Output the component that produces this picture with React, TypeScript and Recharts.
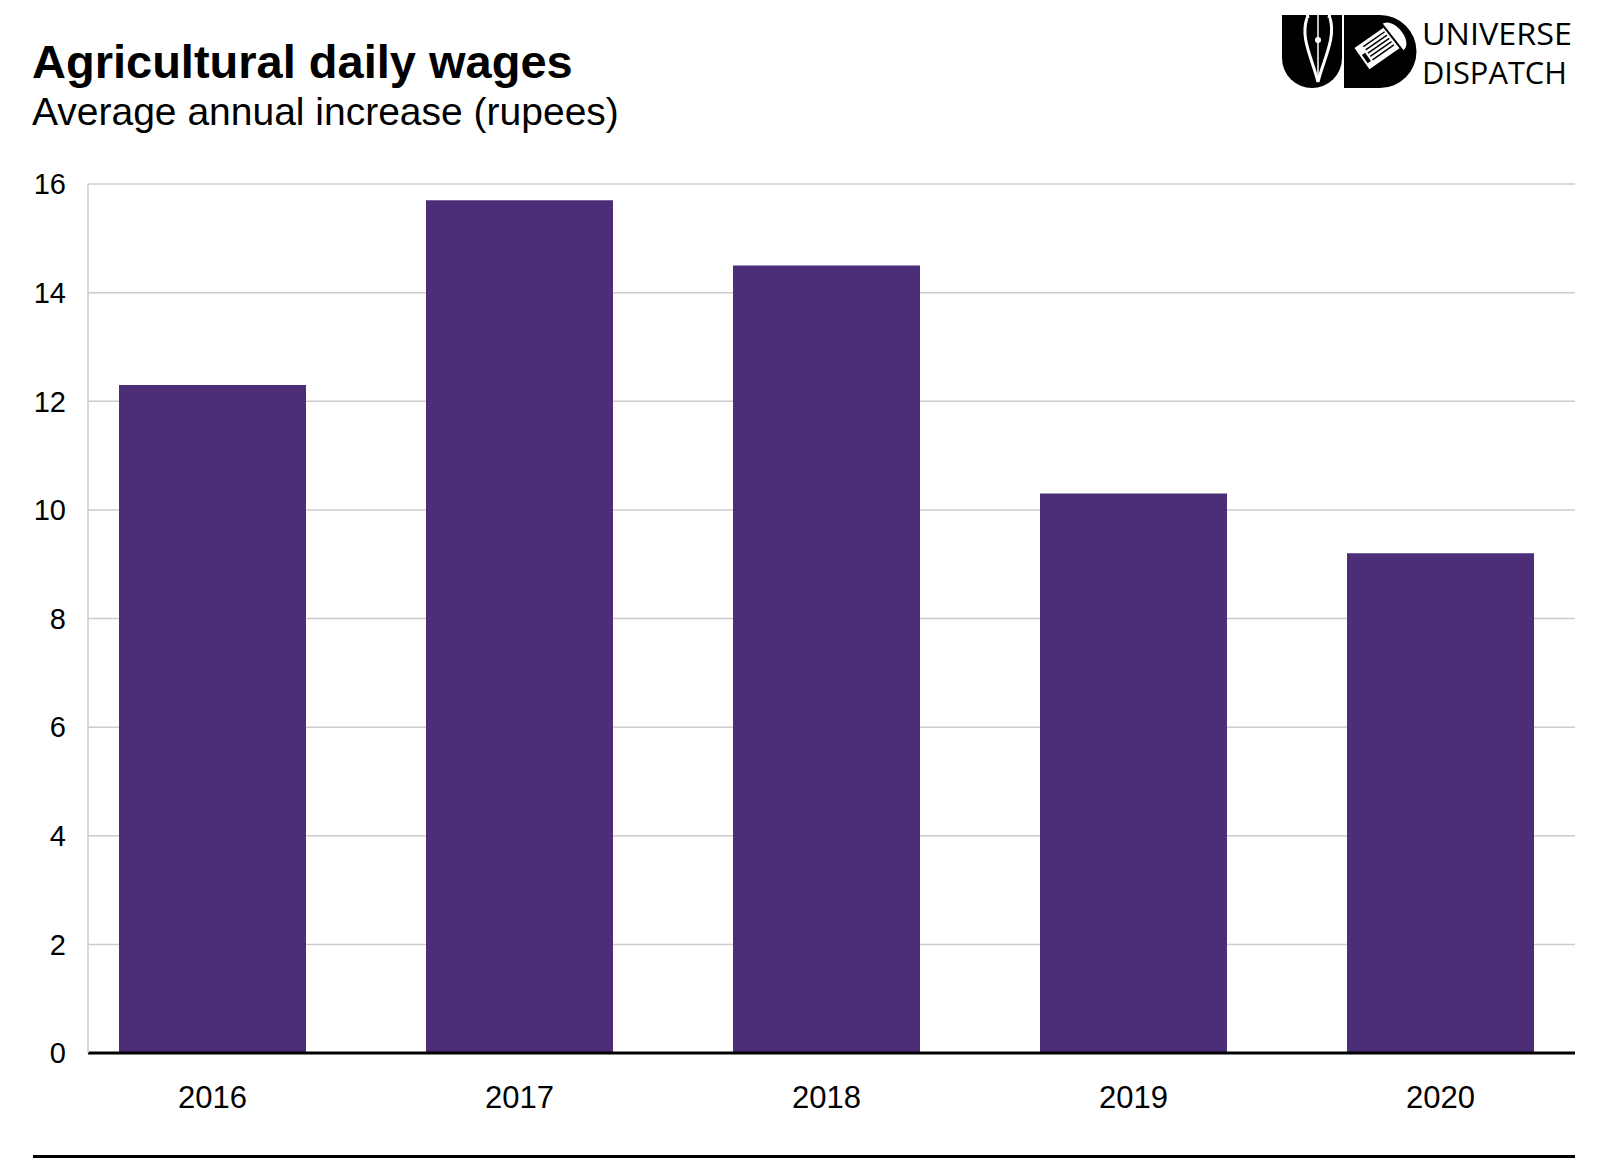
import React from 'react';
import { BarChart, Bar, XAxis, YAxis, CartesianGrid } from 'recharts';

const years = ['2016', '2017', '2018', '2019', '2020'];
const increases = [12.3, 15.7, 14.5, 10.3, 9.2];
const yTicks = [0, 2, 4, 6, 8, 10, 12, 14, 16];

const data = years.map((year, i) => ({ year, value: increases[i] }));

const FONT = '"Liberation Sans", Arial, Helvetica, sans-serif';
const BAR_COLOR = '#4c2d77';
const GRID_COLOR = '#cccccc';

const Logo: React.FC = () => (
  <svg
    width={340}
    height={100}
    viewBox="1260 0 340 100"
    style={{ position: 'absolute', left: 1260, top: 0 }}
  >
    {/* U with pen nib */}
    <path d="M1282,15 H1342 V58 A30,30 0 0 1 1312,88 A30,30 0 0 1 1282,58 Z" fill="#000" />
    <path d="M1306,15 H1331 V22 H1306 Z" fill="#fff" />
    <path
      d="M1307,18 C1300,38 1312,58 1318,82 C1324,58 1336,38 1330,18"
      fill="#000"
      stroke="#fff"
      strokeWidth={3}
    />
    <path d="M1309,15 H1328 L1327,21 H1310 Z" fill="#000" />
    <line x1={1318} y1={15} x2={1318} y2={80} stroke="#fff" strokeWidth={1.5} />
    <circle cx={1318} cy={40} r={3} fill="#fff" />
    {/* D with scroll */}
    <path d="M1344,15 H1380 A36.5,36.5 0 0 1 1380,88 H1344 Z" fill="#000" />
    <g transform="rotate(-35 1380 46)">
      <rect x={1358} y={33} width={38} height={26} fill="#fff" />
      <path d="M1394,28 C1410,28 1412,64 1396,64 Z" fill="#fff" stroke="#000" strokeWidth={2} />
      {[37, 41, 45, 49, 53].map((y) => (
        <line key={y} x1={1366} y1={y} x2={1392} y2={y} stroke="#000" strokeWidth={1.5} />
      ))}
      <rect x={1360} y={43} width={4} height={10} fill="#000" />
    </g>
    <text
      x={1422}
      y={45}
      fontFamily='"Open Sans", "DejaVu Sans", sans-serif'
      fontSize={31}
      textLength={150}
      lengthAdjust="spacingAndGlyphs"
      fill="#000"
    >
      UNIVERSE
    </text>
    <text
      x={1422}
      y={84}
      fontFamily='"Open Sans", "DejaVu Sans", sans-serif'
      fontSize={31}
      textLength={145}
      lengthAdjust="spacingAndGlyphs"
      fill="#000"
    >
      DISPATCH
    </text>
  </svg>
);

export default function App() {
  return (
    <div
      style={{
        position: 'absolute',
        left: 0,
        top: 0,
        width: 1600,
        height: 1159,
        background: '#fff',
        fontFamily: FONT,
        overflow: 'hidden',
      }}
    >
      <div
        style={{
          position: 'absolute',
          left: 32,
          top: 34,
          fontSize: 47,
          fontWeight: 700,
          lineHeight: '56px',
          color: '#000',
          whiteSpace: 'nowrap',
        }}
      >
        Agricultural daily wages
      </div>
      <div
        style={{
          position: 'absolute',
          left: 32,
          top: 89,
          fontSize: 39,
          lineHeight: '46px',
          color: '#000',
          whiteSpace: 'nowrap',
        }}
      >
        Average annual increase (rupees)
      </div>
      <Logo />

      <div style={{ position: 'absolute', left: 0, top: 0 }}>
        <BarChart
          width={1600}
          height={1159}
          data={data}
          margin={{ top: 184, right: 25, bottom: 76, left: 28 }}
        >
          <CartesianGrid vertical={false} stroke={GRID_COLOR} strokeWidth={1.5} />
          <XAxis
            dataKey="year"
            height={30}
            padding={{ left: -29, right: -19 }}
            axisLine={{ stroke: '#000', strokeWidth: 3 }}
            tickLine={false}
            tickSize={0}
            tickMargin={33}
            tick={{ fill: '#000', fontSize: 31, fontFamily: FONT }}
          />
          <YAxis
            width={60}
            domain={[0, 16]}
            ticks={yTicks}
            interval={0}
            axisLine={{ stroke: GRID_COLOR, strokeWidth: 1.5 }}
            tickLine={false}
            tickSize={0}
            tickMargin={22}
            tick={{ fill: '#000', fontSize: 29, fontFamily: FONT }}
          />
          <Bar dataKey="value" fill={BAR_COLOR} barSize={187} isAnimationActive={false} />
        </BarChart>
      </div>

      <div
        style={{
          position: 'absolute',
          left: 33,
          top: 1155,
          width: 1542,
          height: 3,
          background: '#000',
        }}
      />
    </div>
  );
}
